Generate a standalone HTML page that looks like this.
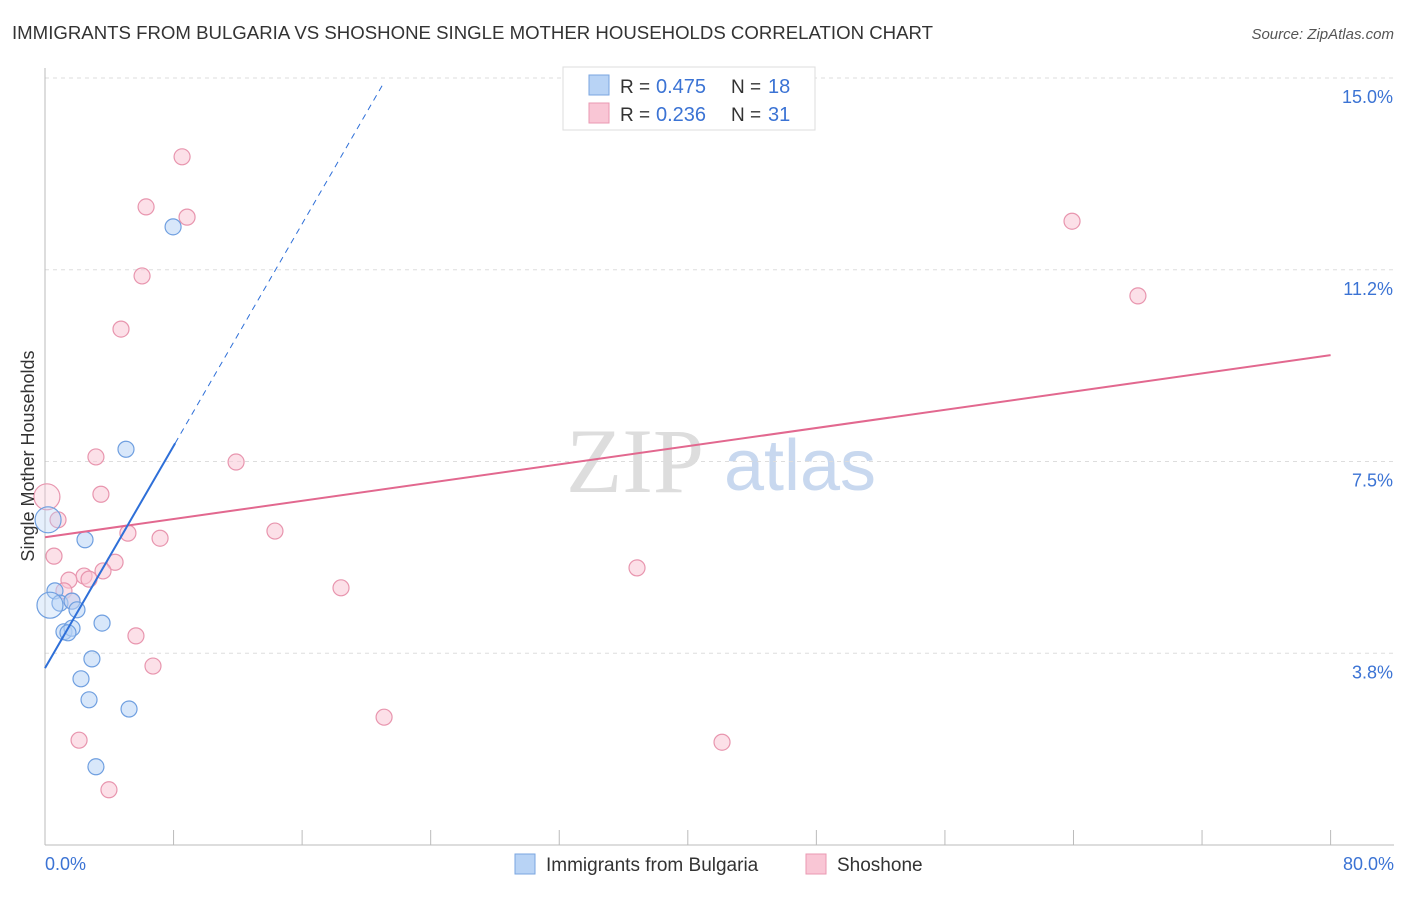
<!DOCTYPE html>
<html><head><meta charset="utf-8"><style>
body{margin:0;background:#fff;font-family:"Liberation Sans",sans-serif;}
</style></head><body>
<svg width="1406" height="892" xmlns="http://www.w3.org/2000/svg" font-family="Liberation Sans, sans-serif">
<text x="12" y="39" font-size="18" fill="#333" textLength="921" lengthAdjust="spacingAndGlyphs">IMMIGRANTS FROM BULGARIA VS SHOSHONE SINGLE MOTHER HOUSEHOLDS CORRELATION CHART</text>
<text x="1394" y="39" font-size="15" fill="#555" font-style="italic" text-anchor="end">Source: ZipAtlas.com</text>
<g>
<text x="635" y="492" font-size="92" fill="#ddd" font-family="Liberation Serif, serif" text-anchor="middle">ZIP</text>
<text x="800" y="490" font-size="72" fill="#c8d8ef" text-anchor="middle">atlas</text></g>
<g id="grid"></g><g id="axes"></g><g id="marks"></g>
<text transform="translate(34,456) rotate(-90)" font-size="18" fill="#333" text-anchor="middle">Single Mother Households</text>
<text x="45" y="870" font-size="18" fill="#3b73d4">0.0%</text>
<text x="1394" y="870" font-size="18" fill="#3b73d4" text-anchor="end">80.0%</text>
<g>
<rect x="563" y="67" width="252" height="63" fill="#fff" stroke="#ddd"/>
<rect x="589" y="75" width="20" height="20" fill="#b8d3f5" stroke="#7aa6e0"/>
<rect x="589" y="103" width="20" height="20" fill="#f9c6d5" stroke="#ea98b2"/>
<text x="620" y="93" font-size="19" fill="#333">R =</text><text x="656" y="93" font-size="20" fill="#3b73d4">0.475</text>
<text x="731" y="93" font-size="19" fill="#333">N =</text><text x="768" y="93" font-size="20" fill="#3b73d4">18</text>
<text x="620" y="121" font-size="19" fill="#333">R =</text><text x="656" y="121" font-size="20" fill="#3b73d4">0.236</text>
<text x="731" y="121" font-size="19" fill="#333">N =</text><text x="768" y="121" font-size="20" fill="#3b73d4">31</text>
</g>
<g>
<rect x="515" y="854" width="20" height="20" fill="#b8d3f5" stroke="#7aa6e0"/>
<text x="546" y="871" font-size="19" fill="#333">Immigrants from Bulgaria</text>
<rect x="806" y="854" width="20" height="20" fill="#f9c6d5" stroke="#ea98b2"/>
<text x="837" y="871" font-size="19" fill="#333">Shoshone</text>
</g>
</svg>
<script>
const yTicks=[3.75,7.5,11.25,15];
const yTickLabels=["3.8%","7.5%","11.2%","15.0%"];
const xTicks=[0,8,16,24,32,40,48,56,64,72,80];
const blueX=[7.97,5.04,2.49,0.62,0.93,0.31,1.68,1.99,3.55,1.18,1.68,2.92,2.24,2.74,5.23,3.17,0.19,1.43];
const blueY=[12.09,7.74,5.97,4.97,4.73,4.69,4.77,4.60,4.34,4.17,4.24,3.64,3.25,2.84,2.66,1.53,6.36,4.15];
const pinkX=[8.53,6.29,8.84,6.04,4.73,3.17,11.89,3.48,0.12,0.81,5.16,7.16,14.31,0.56,4.36,3.61,2.43,1.49,2.74,1.18,1.68,18.42,36.84,5.66,6.72,21.10,2.12,42.13,3.98,63.91,68.01];
const pinkY=[13.46,12.48,12.28,11.13,10.09,7.59,7.49,6.86,6.81,6.36,6.10,6.00,6.14,5.65,5.53,5.36,5.26,5.18,5.20,4.97,4.77,5.03,5.42,4.09,3.50,2.50,2.05,2.01,1.08,12.20,10.74];
const blueTrend=[3.46,0.543];
const pinkTrend=[6.02,0.0445];
const X=v=>45+v*16.07, Y=v=>845-v*51.13;
const NS="http://www.w3.org/2000/svg";
function mk(p,t,a){const e=document.createElementNS(NS,t);for(const k in a)e.setAttribute(k,a[k]);p.appendChild(e);return e;}
const grid=document.getElementById('grid'),axes=document.getElementById('axes'),marks=document.getElementById('marks');
yTicks.forEach((t,i)=>{
const l=mk(grid,'line',{x1:45,x2:1394,y1:Y(t),y2:Y(t),stroke:'#ddd','stroke-dasharray':'4,4'});


const tx=mk(axes,'text',{x:1393,y:Y(t)+25,'font-size':18,fill:'#3b73d4','text-anchor':'end'});tx.textContent=yTickLabels[i];


});
const ax=mk(axes,'line',{x1:45,x2:1394,y1:845,y2:845,stroke:'#bbb'});


const ay=mk(axes,'line',{x1:45,x2:45,y1:68,y2:845,stroke:'#bbb'});


xTicks.forEach(t=>{const k=mk(axes,'line',{x1:X(t),x2:X(t),y1:830,y2:845,stroke:'#bbb'});

});
function pts(xs,ys,fill,stroke,name){xs.forEach((x,i)=>{
const big=x<0.35;
const c=mk(marks,'circle',{cx:X(x),cy:Y(ys[i]),r:big?13:8,fill:fill,'fill-opacity':big?0.35:0.55,stroke:stroke,'stroke-width':1.2});

});}
pts(pinkX,pinkY,'#f9c6d5','#e895ae','shoshone-point');
pts(blueX,blueY,'#b8d3f5','#6f9fe0','bulgaria-point');
const pl=mk(marks,'line',{x1:X(0),y1:Y(pinkTrend[0]),x2:X(80),y2:Y(pinkTrend[0]+80*pinkTrend[1]),stroke:'#e2688f','stroke-width':2});


const bl=mk(marks,'line',{x1:X(0),y1:Y(blueTrend[0]),x2:X(8.1),y2:Y(blueTrend[0]+8.1*blueTrend[1]),stroke:'#2e6fd8','stroke-width':2});


const bd=mk(marks,'line',{x1:X(8.1),y1:Y(blueTrend[0]+8.1*blueTrend[1]),x2:X(21),y2:Y(blueTrend[0]+21*blueTrend[1]),stroke:'#2e6fd8','stroke-width':1,'stroke-dasharray':'6,5'});


</script>
</body></html>
